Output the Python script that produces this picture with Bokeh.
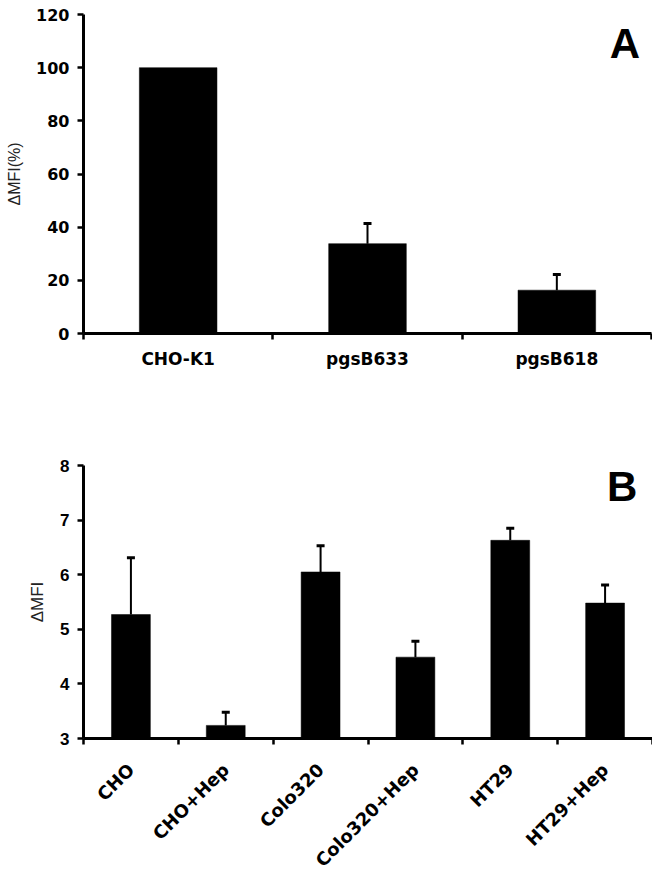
import math
from bokeh.plotting import figure
from bokeh.models import (Range1d, FixedTicker, SingleIntervalTicker, Whisker, TeeHead,
                          ColumnDataSource, Label)
from bokeh.layouts import column
from bokeh.embed import file_html
from bokeh.resources import INLINE

# ---- data ----
a_labels = ["CHO-K1", "pgsB633", "pgsB618"]
a_values = [100.0, 33.8, 16.3]
a_upper = [None, 41.4, 22.2]

b_labels = ["CHO", "CHO+Hep", "Colo320", "Colo320+Hep", "HT29", "HT29+Hep"]
b_values = [5.27, 3.24, 6.05, 4.49, 6.63, 5.48]
b_upper = [6.31, 3.48, 6.53, 4.78, 6.85, 5.81]

a_yticks_interval = 20
b_yticks_interval = 1


def make_panel(labels, values, upper, ymin, ymax, interval, ytitle, letter,
               frame_w, frame_h, bl, br, bt, bb, bar_w,
               tick_font, tick_size, xl_font, xl_size, xl_orient, xl_standoff,
               title_size, letter_x, letter_y):
    n = len(labels)
    xs = list(range(n))
    p = figure(frame_width=frame_w, frame_height=frame_h,
               x_range=Range1d(-0.5, n - 0.5), y_range=Range1d(ymin, ymax),
               output_backend="svg", toolbar_location=None,
               min_border_left=bl, min_border_right=br,
               min_border_top=bt, min_border_bottom=bb)
    p.outline_line_color = None
    p.grid.visible = False
    p.background_fill_color = "white"
    p.border_fill_color = "white"

    p.vbar(x=xs, top=values, bottom=ymin, width=bar_w,
           fill_color="black", line_color="black", line_width=0.5)

    ex = [x for x, u in zip(xs, upper) if u is not None]
    eu = [u for u in upper if u is not None]
    el = [v for v, u in zip(values, upper) if u is not None]
    src = ColumnDataSource(dict(x=ex, upper=eu, lower=el))
    w = Whisker(base="x", upper="upper", lower="lower", source=src,
                line_color="black", line_width=2,
                upper_head=TeeHead(size=8, line_width=3, line_color="black"),
                lower_head=None)
    p.add_layout(w)

    # x axis
    xa = p.xaxis[0]
    xa.ticker = FixedTicker(ticks=xs, minor_ticks=[x - 0.5 for x in xs] + [n - 0.5])
    xa.major_label_overrides = {x: lab for x, lab in zip(xs, labels)}
    xa.major_tick_out = 0
    xa.major_tick_in = 0
    xa.minor_tick_out = 6
    xa.minor_tick_in = 0
    xa.minor_tick_line_width = 2.5
    xa.minor_tick_line_color = "black"
    xa.axis_line_width = 3
    xa.axis_line_color = "black"
    xa.major_label_text_font = xl_font
    xa.major_label_text_font_size = xl_size
    xa.major_label_text_font_style = "bold"
    xa.major_label_text_color = "black"
    if xl_orient is not None:
        xa.major_label_orientation = xl_orient
    xa.major_label_standoff = xl_standoff

    # y axis
    ya = p.yaxis[0]
    ya.ticker = SingleIntervalTicker(interval=interval)
    ya.minor_tick_line_color = None
    ya.major_tick_out = 6
    ya.major_tick_in = 0
    ya.major_tick_line_width = 2.5
    ya.major_tick_line_color = "black"
    ya.axis_line_width = 3
    ya.axis_line_color = "black"
    ya.major_label_text_font = tick_font
    ya.major_label_text_font_size = tick_size
    ya.major_label_text_font_style = "bold"
    ya.major_label_text_color = "black"
    ya.major_label_standoff = 8
    ya.axis_label = ytitle
    ya.axis_label_text_font = "Liberation Sans"
    ya.axis_label_text_font_style = "normal"
    ya.axis_label_text_font_size = title_size
    ya.axis_label_text_color = "#222222"
    ya.axis_label_standoff = 10

    p.add_layout(Label(x=letter_x, y=letter_y, text=letter,
                       text_font="Liberation Sans", text_font_style="bold",
                       text_font_size="42px", text_align="center",
                       text_baseline="middle", text_color="black"))
    return p


pA = make_panel(a_labels, a_values, a_upper, 0, 120, a_yticks_interval, "ΔMFI(%)", "A",
                frame_w=568, frame_h=319, bl=81, br=3, bt=14, bb=106, bar_w=0.41,
                tick_font="DejaVu Sans", tick_size="16px",
                xl_font="DejaVu Sans", xl_size="17px", xl_orient=None, xl_standoff=9,
                title_size="16px", letter_x=2.36, letter_y=109)

pB = make_panel(b_labels, b_values, b_upper, 3, 8, b_yticks_interval, "ΔMFI", "B",
                frame_w=569, frame_h=273, bl=83, br=0, bt=26, bb=128, bar_w=0.41,
                tick_font="Liberation Sans", tick_size="17px",
                xl_font="DejaVu Sans", xl_size="18px", xl_orient=math.pi / 4,
                xl_standoff=22,
                title_size="17px", letter_x=5.18, letter_y=7.62)

layout = column(pA, pB, spacing=0)
open("out.html", "w").write(file_html(layout, INLINE))
